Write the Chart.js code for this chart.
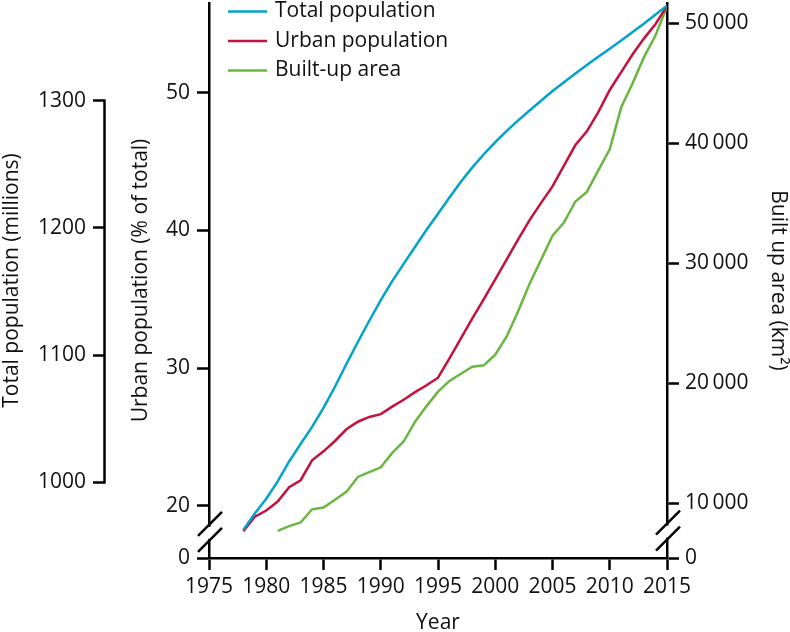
<!DOCTYPE html>
<html><head><meta charset="utf-8">
<script src="https://cdn.jsdelivr.net/npm/chart.js@4.4.1/dist/chart.umd.min.js"></script>
<style>html,body{margin:0;padding:0;background:#fff}canvas{display:block}</style>
</head><body>
<canvas id="c" width="790" height="632"></canvas>
<script>
const years = [1978,1979,1980,1981,1982,1983,1984,1985,1986,1987,1988,1989,1990,1991,1992,1993,1994,1995,1996,1997,1998,1999,2000,2001,2002,2003,2004,2005,2006,2007,2008,2009,2010,2011,2012,2013,2014,2015];
const totalPopulation = [962.6,975.4,987.1,1000.7,1016.5,1030.1,1043.6,1058.5,1075.1,1093.0,1110.3,1127.0,1143.3,1158.2,1171.7,1185.2,1198.5,1211.2,1223.9,1236.3,1247.6,1257.9,1267.4,1276.3,1284.5,1292.3,1299.9,1307.6,1314.5,1321.3,1328.0,1334.5,1340.9,1347.4,1354.0,1360.7,1367.8,1374.6];
const urbanPopulation = [18.15,19.2,19.65,20.3,21.35,21.85,23.3,23.95,24.7,25.55,26.1,26.45,26.65,27.2,27.7,28.25,28.75,29.3,30.7,32.15,33.6,35.0,36.45,37.9,39.35,40.75,42.0,43.2,44.7,46.2,47.2,48.6,50.2,51.5,52.8,53.95,55.0,56.3];
const builtUpArea = [null,null,null,7700,8100,8400,9500,9650,10300,10950,12200,12600,13000,14200,15150,16800,18100,19300,20200,20800,21380,21500,22380,23900,26000,28300,30300,32300,33400,35150,35950,37750,39500,43000,45000,47200,49000,51400];
const xTicks = [1975,1980,1985,1990,1995,2000,2005,2010,2015];
const totalTicks = [1000,1100,1200,1300];
const urbanTicks = [20,30,40,50];
const builtTicks = [10000,20000,30000,40000,50000];
const seriesLabels = ['Total population','Urban population','Built-up area'];
const seriesColors = ['#00a3c9','#c4123f','#6ab640'];

Chart.defaults.font.family = "'Open Sans', 'DejaVu Sans', sans-serif";
Chart.defaults.font.size = 21;
Chart.defaults.color = '#111';

const pts = (arr) => years.map((y, i) => ({x: y, y: arr[i]}));

const fontT = {size: 21, lineHeight: 1.1};
const gridOpts = {drawOnChartArea: false, drawTicks: true, tickLength: 12, tickWidth: 2.5, color: '#000'};
const borderOpts = {display: true, color: '#000', width: 2.5};
const fmtThin = (v) => String(Math.round(v)).replace(/\B(?=(\d{3})+(?!\d))/g, '\u2009');

const decor = {
  id: 'decor',
  afterDraw(chart) {
    const ctx = chart.ctx;
    // partial axis line for total population
    const s = chart.scales.yTotal;
    ctx.save();
    ctx.strokeStyle = '#000';
    ctx.lineWidth = 2.5;
    ctx.beginPath();
    ctx.moveTo(s.right - 0.5, s.getPixelForValue(totalTicks[0]) + 1.25);
    ctx.lineTo(s.right - 0.5, s.getPixelForValue(totalTicks[totalTicks.length - 1]) - 1.25);
    ctx.stroke();
    // axis breaks
    const drawBreak = (x, y) => {
      ctx.fillStyle = '#fff';
      ctx.fillRect(x - 3, y - 6, 6, 12);
      ctx.strokeStyle = '#000';
      ctx.lineWidth = 2.5;
      [-8, 8].forEach(d => {
        ctx.beginPath();
        ctx.moveTo(x - 11, y + d + 11);
        ctx.lineTo(x + 13, y + d - 13);
        ctx.stroke();
      });
    };
    const u = chart.scales.yUrban, b = chart.scales.yBuilt;
    drawBreak(u.right, (u.bottom + u.getPixelForValue(urbanTicks[0])) / 2 + 1);
    drawBreak(b.left, (b.bottom + b.getPixelForValue(builtTicks[0])) / 2 + 1);
    // legend
    const ca = chart.chartArea;
    ctx.font = "21px 'Open Sans', 'DejaVu Sans', sans-serif";
    ctx.textBaseline = 'middle';
    ctx.textAlign = 'left';
    chart.data.datasets.forEach((ds, i) => {
      const y = ca.top + 8.5 + i * 29.5;
      const x0 = ca.left + 19;
      ctx.strokeStyle = ds.borderColor;
      ctx.lineWidth = 2.5;
      ctx.beginPath();
      ctx.moveTo(x0, y);
      ctx.lineTo(x0 + 39, y);
      ctx.stroke();
      ctx.fillStyle = '#111';
      ctx.fillText(ds.label, x0 + 47, y);
    });
    ctx.restore();
  }
};

const zeroPad = (w, h) => (scale) => {
  if (w !== null) scale.width = w;
  if (h !== null) scale.height = h;
  scale.paddingTop = 0; scale.paddingBottom = 0;
  scale.paddingLeft = 0; scale.paddingRight = 0;
};

new Chart(document.getElementById('c'), {
  type: 'line',
  data: {
    datasets: [
      {label: seriesLabels[0], data: pts(totalPopulation), yAxisID: 'yTotal', borderColor: seriesColors[0], backgroundColor: seriesColors[0]},
      {label: seriesLabels[1], data: pts(urbanPopulation), yAxisID: 'yUrban', borderColor: seriesColors[1], backgroundColor: seriesColors[1]},
      {label: seriesLabels[2], data: pts(builtUpArea), yAxisID: 'yBuilt', borderColor: seriesColors[2], backgroundColor: seriesColors[2]}
    ]
  },
  options: {
    responsive: false,
    animation: false,
    devicePixelRatio: 1,
    layout: {padding: {top: 3, left: 0, right: 0, bottom: 0}},
    elements: {line: {borderWidth: 2.5, tension: 0}, point: {radius: 0, hoverRadius: 0}},
    plugins: {legend: {display: false}, tooltip: {enabled: false}},
    scales: {
      x: {
        type: 'linear', position: 'bottom', min: 1975, max: 2015,
        afterBuildTicks: (s) => { s.ticks = xTicks.map(v => ({value: v})); },
        afterFit: zeroPad(null, 74),
        ticks: {autoSkip: false, maxRotation: 0, padding: 4, callback: (v) => String(v)},
        grid: gridOpts, border: borderOpts,
        title: {display: true, text: 'Year', font: {size: 21, lineHeight: 0.9}, padding: {top: 0, bottom: 0}}
      },
      yTotal: {
        type: 'linear', position: 'left', weight: 1, min: 940.5, max: 1376.8,
        afterBuildTicks: (s) => { s.ticks = totalTicks.map(v => ({value: v})); },
        afterFit: zeroPad(105, null),
        ticks: {padding: 7, callback: (v) => String(v)},
        grid: gridOpts, border: {display: false},
        title: {display: true, text: 'Total population (millions)', font: fontT, padding: {top: 0, bottom: 0}}
      },
      yUrban: {
        type: 'linear', position: 'left', weight: 0, min: 16.2, max: 56.52,
        afterBuildTicks: (s) => { s.ticks = [s.min].concat(urbanTicks).map(v => ({value: v})); },
        afterFit: zeroPad(104, null),
        ticks: {padding: 7, callback: function(v) { return v === this.min ? '0' : String(v); }},
        grid: gridOpts, border: borderOpts,
        title: {display: true, text: 'Urban population (% of total)', font: fontT, padding: {top: 24, bottom: 0}}
      },
      yBuilt: {
        type: 'linear', position: 'right', weight: 0, min: 5442, max: 51692,
        afterBuildTicks: (s) => { s.ticks = [s.min].concat(builtTicks).map(v => ({value: v})); },
        afterFit: zeroPad(123, null),
        ticks: {padding: 6, callback: function(v) { return v === this.min ? '0' : fmtThin(v); }},
        grid: gridOpts, border: borderOpts,
        title: {display: true, text: 'Built up area (km\u00B2)', font: fontT, padding: {top: 0, bottom: 0}}
      }
    }
  },
  plugins: [decor]
});
</script>
</body></html>
